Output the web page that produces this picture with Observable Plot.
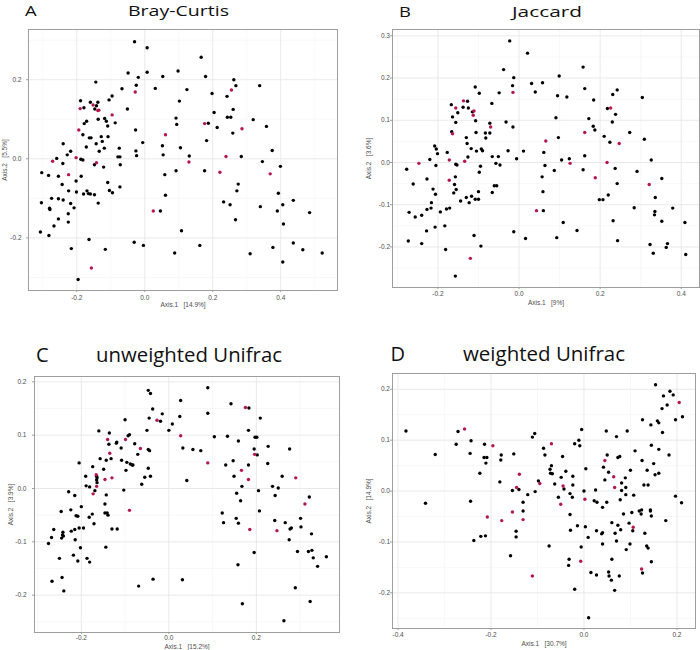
<!DOCTYPE html>
<html><head><meta charset="utf-8">
<script src="https://cdn.jsdelivr.net/npm/d3@7"></script>
<script src="https://cdn.jsdelivr.net/npm/@observablehq/plot@0.6"></script>
<style>
body{margin:0;background:#fff;}
#wrap{position:relative;width:700px;height:650px;overflow:hidden;background:#fff;}
#wrap svg{position:absolute;}
</style></head><body><div id="wrap"></div>
<script>
// ---------- Panel A: Bray-Curtis ----------
const brayBlack = [[-0.03,0.296],[0.007,0.281],[-0.144,0.194],[-0.049,0.217],[0.007,0.219],[-0.019,0.206],[0.053,0.208],[-0.025,0.186],[-0.067,0.177],[0.031,0.178],[-0.096,0.159],[-0.105,0.149],[-0.189,0.147],[-0.16,0.143],[-0.138,0.143],[-0.142,0.134],[-0.179,0.129],[-0.147,0.126],[-0.051,0.126],[-0.171,0.095],[-0.178,0.089],[-0.137,0.1],[-0.118,0.102],[-0.113,0.095],[-0.087,0.091],[-0.109,0.083],[-0.027,0.073],[-0.182,0.061],[-0.128,0.056],[-0.158,0.053],[-0.163,0.053],[-0.108,0.056],[-0.125,0.044],[-0.006,0.041],[-0.143,0.038],[-0.24,0.038],[-0.172,0.03],[-0.119,0.027],[-0.075,0.027],[-0.134,0.019],[-0.218,0.019],[-0.026,0.02],[-0.024,0.008],[-0.228,0.01],[-0.188,-0.001],[-0.182,-0.003],[-0.259,0.001],[-0.079,0.005],[-0.073,0.005],[-0.241,-0.012],[-0.148,-0.015],[-0.072,-0.015],[-0.121,-0.021],[-0.303,-0.035],[-0.283,-0.042],[-0.187,-0.044],[-0.254,-0.044],[-0.202,-0.056],[-0.109,-0.06],[-0.243,-0.065],[-0.073,-0.071],[-0.104,-0.08],[-0.224,-0.081],[-0.201,-0.084],[-0.17,-0.081],[-0.095,-0.086],[-0.18,-0.089],[-0.166,-0.088],[-0.16,-0.089],[-0.148,-0.091],[-0.274,-0.1],[-0.254,-0.101],[-0.24,-0.104],[-0.304,-0.111],[-0.218,-0.113],[-0.137,-0.112],[-0.28,-0.125],[-0.279,-0.128],[-0.208,-0.124],[0.046,-0.132],[-0.225,-0.139],[-0.254,-0.152],[-0.225,-0.16],[-0.267,-0.17],[-0.307,-0.185],[-0.282,-0.194],[-0.164,-0.204],[-0.031,-0.211],[-0.116,-0.229],[-0.216,-0.227],[-0.004,-0.219],[-0.196,-0.305],[0.088,-0.238],[0.052,0.033],[0.054,0.01],[0.059,-0.04],[0.061,-0.092],[0.092,-0.03],[0.092,0.103],
[0.094,0.087],[0.098,0.222],[0.102,0.146],[0.105,0.028],[0.108,-0.182],[0.166,0.257],[0.179,0.208],[0.124,0.175],[0.262,0.2],[0.268,0.185],[0.338,0.185],[0.198,0.165],[0.242,0.158],[0.26,0.125],[0.204,0.117],[0.243,0.105],[0.253,0.105],[0.319,0.099],[0.187,0.09],[0.213,0.079],[0.358,0.082],[0.259,0.065],[0.182,0.046],[0.375,0.021],[0.131,0.007],[0.284,0.006],[0.346,-0.007],[0.399,-0.019],[0.176,-0.03],[0.275,-0.064],[0.271,-0.081],[0.393,-0.087],[0.437,-0.105],[0.232,-0.109],[0.251,-0.116],[0.34,-0.121],[0.406,-0.116],[0.39,-0.132],[0.485,-0.136],[0.267,-0.154],[0.408,-0.165],[0.162,-0.219],[0.437,-0.213],[0.377,-0.224],[0.465,-0.23],[0.31,-0.24],[0.522,-0.238],[0.406,-0.261]];
const brayRed = [[-0.028,0.169],[-0.152,0.136],[-0.19,0.127],[-0.138,0.122],[-0.135,0.123],[-0.096,0.111],[-0.194,0.073],[-0.202,0.003],[-0.271,-0.006],[-0.142,-0.01],[-0.224,-0.04],[0.025,-0.132],[-0.157,-0.276],[0.061,0.061],[0.255,0.174],[0.176,0.089],[0.286,0.076],[0.13,-0.008],[0.239,0.006],[0.221,-0.034],[0.369,-0.038]];

// ---------- Panel B: Jaccard ----------
const jaccBlack = [[-0.023,0.288],[-0.038,0.22],[-0.013,0.201],[-0.016,0.182],[-0.049,0.165],[-0.108,0.179],[-0.098,0.164],[-0.127,0.145],[-0.167,0.137],[-0.138,0.131],[-0.125,0.129],[-0.115,0.12],[-0.151,0.118],[-0.067,0.14],[-0.164,0.108],[-0.107,0.099],[-0.032,0.096],[-0.156,0.095],[-0.072,0.093],[-0.015,0.084],[-0.166,0.073],[-0.106,0.071],[-0.083,0.07],[-0.072,0.07],[-0.082,0.058],[-0.13,0.059],[-0.128,0.045],[-0.208,0.039],[-0.204,0.032],[-0.118,0.033],[-0.093,0.032],[-0.09,0.028],[-0.105,0.027],[-0.027,0.028],[-0.201,0.021],[-0.177,0.024],[-0.066,0.014],[-0.051,0.014],[-0.126,0.013],[-0.006,0.009],[-0.22,0.007],[-0.057,-0.002],[-0.156,-0.004],[-0.153,-0.006],[-0.047,-0.006],[-0.205,-0.007],[-0.095,-0.009],[-0.277,-0.016],[-0.098,-0.023],[-0.157,-0.034],[-0.227,-0.039],[-0.261,-0.051],[-0.159,-0.052],[-0.061,-0.055],[-0.055,-0.055],[-0.155,-0.064],[-0.212,-0.063],[-0.066,-0.071],[-0.161,-0.072],[-0.1,-0.069],[-0.206,-0.075],[-0.13,-0.083],[-0.117,-0.08],[-0.108,-0.087],[-0.1,-0.087],[-0.144,-0.091],[-0.123,-0.095],[-0.216,-0.095],[-0.217,-0.108],[-0.179,-0.11],[-0.171,-0.108],[-0.227,-0.111],[-0.194,-0.117],[-0.271,-0.118],[-0.24,-0.125],[-0.256,-0.129],[-0.183,-0.15],[-0.228,-0.162],[-0.207,-0.153],[-0.013,-0.164],[-0.111,-0.173],[-0.273,-0.186],[-0.24,-0.192],[-0.094,-0.198],[-0.181,-0.206],[-0.157,-0.269],
[0.021,0.259],[0.158,0.226],[0.099,0.205],[0.031,0.187],[0.058,0.189],[0.04,0.167],[0.162,0.175],[0.242,0.172],[0.231,0.161],[0.095,0.158],[0.118,0.155],[0.304,0.154],[0.184,0.148],[0.218,0.128],[0.238,0.114],[0.091,0.106],[0.172,0.104],[0.23,0.096],[0.183,0.086],[0.187,0.077],[0.273,0.071],[0.097,0.059],[0.21,0.062],[0.309,0.055],[0.224,0.048],[0.011,0.027],[0.061,0.024],[0.162,0.016],[0.124,0.009],[0.105,0.006],[0.326,0.006],[0.064,-0.007],[0.237,-0.014],[0.158,-0.017],[0.087,-0.019],[0.291,-0.021],[0.057,-0.034],[0.352,-0.038],[0.242,-0.05],[0.059,-0.069],[0.22,-0.077],[0.336,-0.083],[0.198,-0.088],[0.207,-0.088],[0.284,-0.107],[0.379,-0.108],[0.06,-0.114],[0.335,-0.116],[0.334,-0.124],[0.109,-0.142],[0.232,-0.138],[0.352,-0.139],[0.409,-0.142],[0.143,-0.161],[0.016,-0.18],[0.093,-0.178],[0.243,-0.185],[0.323,-0.194],[0.366,-0.192],[0.363,-0.201],[0.331,-0.215],[0.411,-0.218]];
const jaccRed = [[-0.015,0.166],[-0.137,0.146],[-0.156,0.129],[-0.111,0.122],[-0.113,0.112],[-0.07,0.084],[-0.164,0.068],[-0.172,0.006],[-0.134,0.003],[-0.247,-0.002],[-0.172,-0.042],[-0.12,-0.227],[0.226,0.129],[0.162,0.071],[0.066,0.051],[0.247,0.045],[0.126,-0.002],[0.217,0.0],[0.188,-0.036],[0.321,-0.052],[0.043,-0.114]];

// ---------- Panel C: unweighted Unifrac ----------
const unwBlack = [[-0.047,0.184],[-0.042,0.178],[-0.037,0.149],[-0.045,0.132],[-0.019,0.126],[-0.015,0.14],[-0.1,0.129],[0.008,0.121],[0.0,0.109],[-0.05,0.109],[-0.16,0.108],[-0.136,0.104],[-0.09,0.101],[-0.093,0.099],[-0.078,0.084],[-0.137,0.083],[-0.119,0.087],[-0.12,0.085],[-0.109,0.076],[-0.047,0.073],[-0.044,0.071],[-0.071,0.064],[-0.157,0.056],[-0.143,0.053],[-0.132,0.056],[-0.108,0.053],[-0.096,0.049],[-0.088,0.046],[-0.084,0.044],[-0.082,0.044],[-0.205,0.048],[-0.174,0.041],[-0.047,0.038],[-0.149,0.036],[-0.098,0.034],[-0.19,0.023],[-0.165,0.023],[-0.164,0.02],[-0.165,0.016],[-0.055,0.021],[-0.042,0.023],[-0.164,0.011],[-0.189,0.005],[-0.181,0.003],[-0.062,0.008],[-0.103,-0.003],[-0.229,-0.006],[-0.169,-0.004],[-0.215,-0.013],[-0.143,-0.012],[-0.146,-0.029],[-0.2,-0.034],[-0.212,-0.051],[-0.208,-0.052],[-0.224,-0.04],[-0.246,-0.043],[-0.146,-0.046],[-0.141,-0.046],[-0.139,-0.05],[-0.175,-0.048],[-0.182,-0.054],[-0.171,-0.066],[-0.195,-0.074],[-0.205,-0.074],[-0.215,-0.077],[-0.223,-0.08],[-0.263,-0.077],[-0.13,-0.076],[-0.118,-0.076],[-0.242,-0.082],[-0.243,-0.087],[-0.241,-0.089],[-0.245,-0.093],[-0.268,-0.092],[-0.214,-0.096],[-0.275,-0.103],[-0.144,-0.11],[-0.202,-0.111],[-0.218,-0.125],[-0.208,-0.136],[-0.25,-0.131],[-0.187,-0.131],[-0.181,-0.138],[-0.036,-0.17],[-0.244,-0.167],[-0.267,-0.174],[-0.24,-0.192],[-0.069,-0.183],
[0.089,0.189],[0.027,0.165],[0.025,0.135],[0.142,0.159],[0.183,0.151],[0.089,0.141],[0.209,0.132],[0.182,0.109],[0.104,0.097],[0.134,0.098],[0.159,0.089],[0.197,0.096],[0.201,0.096],[0.227,0.079],[0.276,0.074],[0.032,0.076],[0.055,0.073],[0.073,0.071],[0.195,0.074],[0.202,0.063],[0.13,0.044],[0.147,0.052],[0.182,0.044],[0.226,0.047],[0.149,0.023],[0.259,0.023],[0.041,0.015],[0.167,0.004],[0.237,0.004],[0.25,0.001],[0.155,-0.009],[0.205,-0.004],[0.243,-0.013],[0.321,-0.016],[0.164,-0.023],[0.207,-0.042],[0.122,-0.046],[0.301,-0.056],[0.154,-0.056],[0.125,-0.064],[0.159,-0.065],[0.242,-0.06],[0.266,-0.064],[0.277,-0.076],[0.28,-0.074],[0.302,-0.072],[0.326,-0.085],[0.275,-0.096],[0.195,-0.12],[0.294,-0.118],[0.319,-0.118],[0.327,-0.116],[0.33,-0.13],[0.36,-0.128],[0.34,-0.146],[0.158,-0.143],[0.031,-0.171],[0.289,-0.186],[0.323,-0.212],[0.168,-0.216],[0.263,-0.248]];
const unwRed = [[-0.027,0.128],[-0.14,0.092],[-0.099,0.092],[-0.065,0.075],[-0.135,0.066],[-0.166,0.026],[-0.13,0.02],[-0.146,0.017],[-0.165,0.004],[-0.173,-0.01],[-0.09,-0.041],[0.175,0.152],[0.027,0.099],[0.196,0.064],[0.089,0.048],[0.166,0.034],[0.182,0.017],[0.29,0.02],[0.311,-0.029],[0.185,-0.077],[0.247,-0.079]];

// ---------- Panel D: weighted Unifrac ----------
const wBlack = [[-0.383,0.118],[-0.271,0.117],[-0.275,0.092],[-0.243,0.099],[-0.32,0.072],[-0.245,0.074],[-0.214,0.092],[-0.215,0.066],[-0.209,0.066],[-0.211,0.055],[-0.178,0.071],[-0.179,0.061],[-0.151,0.073],[-0.224,0.035],[-0.181,0.018],[-0.154,0.001],[-0.14,0.003],[-0.341,-0.024],[-0.244,-0.02],[-0.222,-0.089],[-0.212,-0.088],[-0.237,-0.097],[-0.146,-0.079],[-0.146,-0.09],[-0.158,-0.127],
[-0.131,-0.022],[-0.131,-0.039],[-0.121,-0.007],[-0.105,-0.001],[-0.111,0.106],[-0.106,0.113],[-0.087,0.084],[-0.084,0.071],[-0.098,0.02],[-0.07,0.05],[-0.073,0.043],[-0.072,0.035],[-0.068,0.034],[-0.063,0.014],[-0.049,0.027],[-0.046,0.068],[-0.039,0.039],[-0.043,0.004],[-0.055,-0.012],[-0.03,-0.005],[-0.024,0.029],[-0.024,0.012],[-0.025,-0.012],[-0.03,-0.046],[-0.029,-0.077],[-0.02,0.093],[-0.011,0.1],[-0.009,0.089],[-0.005,0.121],[0.0,0.0],[0.004,0.044],[-0.014,-0.068],[0.003,-0.07],[0.009,-0.091],[-0.006,-0.11],[-0.075,-0.108],[-0.032,-0.134],[-0.033,-0.146],[-0.02,-0.193],[0.01,-0.249],[0.015,-0.16],[0.027,-0.165],[0.022,-0.019],[0.028,-0.022],[0.025,0.002],[0.027,-0.078],[0.038,-0.084],[0.04,-0.082],[0.04,-0.032],[0.04,-0.104],[0.045,0.022],[0.049,-0.022],[0.042,0.047],[0.05,0.071],[0.048,0.118],[0.053,0.037],[0.053,-0.159],[0.054,-0.167],[0.059,-0.175],[0.06,-0.134],[0.06,-0.062],[0.066,-0.195],[0.067,-0.083],[0.07,0.107],[0.07,-0.098],[0.073,-0.067],[0.073,0.066],[0.077,0.068],[0.076,-0.167],[0.078,-0.017],[0.079,-0.076],[0.081,0.016],[0.081,0.001],[0.085,-0.045],[0.089,0.026],[0.09,0.007],[0.09,-0.007],[0.091,-0.115],[0.093,0.118],[0.097,-0.063],[0.099,-0.104],[0.1,0.041],[0.103,-0.042],[0.105,-0.078],[0.107,-0.008],[0.11,0.079],[0.119,-0.039],[0.123,-0.045],[0.124,-0.037],[0.126,-0.161],[0.126,0.14],[0.125,0.06],[0.129,0.012],[0.131,-0.083],[0.136,0.041],[0.138,0.012],[0.135,-0.108],[0.138,-0.112],[0.143,-0.039],[0.143,-0.037],[0.145,-0.049],[0.144,0.13],[0.145,0.09],[0.145,-0.139],[0.15,0.054],[0.153,0.032],[0.154,0.209],[0.158,0.138],[0.161,0.134],[0.161,0.082],[0.161,0.035],[0.169,0.115],[0.168,0.162],[0.171,0.187],[0.176,-0.058],[0.179,0.169],[0.183,0.071],[0.185,0.196],[0.192,0.189],[0.197,0.14],[0.212,0.146],[0.197,-0.01],[0.21,-0.023]];
const wRed = [[-0.257,0.122],[-0.196,0.089],[-0.139,0.033],[-0.145,0.007],[-0.208,-0.051],[-0.177,-0.058],[-0.154,-0.041],[-0.131,-0.056],[-0.07,0.093],[-0.095,0.015],[-0.045,0.01],[-0.05,-0.026],[0.002,-0.016],[-0.007,-0.138],[-0.111,-0.167],[0.045,0.06],[0.064,0.028],[0.066,0.007],[0.106,-0.071],[0.124,-0.153],[0.205,0.174]];

// ---------- ticks and labels ----------
const panelLetters = ["A", "B", "C", "D"];
const panelTitles = ["Bray-Curtis", "Jaccard", "unweighted Unifrac", "weighted Unifrac"];
const xAxisLabels = ["Axis.1\u00a0\u00a0\u00a0[14.9%]", "Axis.1\u00a0\u00a0\u00a0[9%]", "Axis.1\u00a0\u00a0\u00a0[15.2%]", "Axis.1\u00a0\u00a0\u00a0[30.7%]"];
const yAxisLabels = ["Axis.2\u00a0\u00a0\u00a0[5.5%]", "Axis.2\u00a0\u00a0\u00a0[3.6%]", "Axis.2\u00a0\u00a0\u00a0[3.9%]", "Axis.2\u00a0\u00a0\u00a0[14.9%]"];
const xTicksA = [-0.2, 0, 0.2, 0.4], yTicksA = [-0.2, 0, 0.2];
const xMinorA = [-0.3, -0.1, 0.1, 0.3, 0.5], yMinorA = [-0.3, -0.1, 0.1, 0.3];
const xTicksB = [-0.2, 0, 0.2, 0.4], yTicksB = [-0.2, -0.1, 0, 0.1, 0.2, 0.3];
const xMinorB = [-0.3, -0.1, 0.1, 0.3], yMinorB = [-0.25, -0.15, -0.05, 0.05, 0.15, 0.25];
const xTicksC = [-0.2, 0, 0.2], yTicksC = [-0.2, -0.1, 0, 0.1, 0.2];
const xMinorC = [-0.3, -0.1, 0.1, 0.3], yMinorC = [-0.25, -0.15, -0.05, 0.05, 0.15];
const xTicksD = [-0.4, -0.2, 0, 0.2], yTicksD = [-0.2, -0.1, 0, 0.1, 0.2];
const xMinorD = [-0.3, -0.1, 0.1], yMinorD = [-0.25, -0.15, -0.05, 0.05, 0.15];

const RED = "#b5174b";
const fmt = v => v.toFixed(1);

const panels = [
  {black: brayBlack, red: brayRed, xd: [-0.342, 0.567], yd: [-0.333, 0.327], xt: xTicksA, yt: yTicksA, xm: xMinorA, ym: yMinorA,
   left: 0, top: 20, w: 345, h: 305, ml: 28, mt: 9, mr: 8, mb: 35, padX: 2.5, padY: 5, lx: 16},
  {black: jaccBlack, red: jaccRed, xd: [-0.312, 0.445], yd: [-0.296, 0.315], xt: xTicksB, yt: yTicksB, xm: xMinorB, ym: yMinorB,
   left: 350, top: 20, w: 350, h: 305, ml: 42, mt: 9, mr: 1, mb: 38, padX: 2, padY: 0.5, lx: 17.5},
  {black: unwBlack, red: unwRed, xd: [-0.307, 0.39], yd: [-0.27, 0.21], xt: xTicksC, yt: yTicksC, xm: xMinorC, ym: yMinorC,
   left: 0, top: 365, w: 345, h: 285, ml: 34, mt: 11, mr: 6, mb: 18, padX: 1, padY: 6, lx: 16},
  {black: wBlack, red: wRed, xd: [-0.412, 0.24], yd: [-0.27, 0.231], xt: xTicksD, yt: yTicksD, xm: xMinorD, ym: yMinorD,
   left: 350, top: 365, w: 350, h: 285, ml: 42, mt: 8, mr: 5, mb: 22, padX: 1.5, padY: 0.5, lx: 17.5}
];

const wrap = document.getElementById("wrap");
panels.forEach((p, i) => {
  const svg = Plot.plot({
    width: p.w, height: p.h,
    marginLeft: p.ml, marginTop: p.mt, marginRight: p.mr, marginBottom: p.mb,
    style: {fontFamily: "'Liberation Sans', Arial, sans-serif", background: "transparent", overflow: "visible"},
    x: {domain: p.xd},
    y: {domain: p.yd},
    marks: [
      Plot.ruleX(p.xm, {stroke: "#f3f3f3", strokeWidth: 0.6}),
      Plot.ruleY(p.ym, {stroke: "#f3f3f3", strokeWidth: 0.6}),
      Plot.ruleX(p.xt, {stroke: "#e6e6e6", strokeWidth: 0.9}),
      Plot.ruleY(p.yt, {stroke: "#e6e6e6", strokeWidth: 0.9}),
      Plot.dot(p.black, {x: d => d[0], y: d => d[1], r: 1.7, fill: "#000", stroke: "none"}),
      Plot.dot(p.red, {x: d => d[0], y: d => d[1], r: 1.7, fill: RED, stroke: "none"}),
      Plot.frame({stroke: "#9e9e9e", strokeWidth: 1}),
      Plot.axisX(p.xt, {tickFormat: fmt, tickSize: 2, stroke: "#9e9e9e", tickPadding: p.padX, fontSize: 6.5, fill: "#4d4d4d",
        label: xAxisLabels[i], labelAnchor: "center", labelArrow: "none", labelOffset: p.lx}),
      Plot.axisY(p.yt, {tickFormat: fmt, tickSize: 2, stroke: "#9e9e9e", tickPadding: p.padY, fontSize: 6.5, fill: "#4d4d4d",
        label: yAxisLabels[i], labelAnchor: "center", labelArrow: "none", labelOffset: 26.5})
    ]
  });
  svg.style.left = p.left + "px";
  svg.style.top = p.top + "px";
  wrap.appendChild(svg);
});

// ---------- panel letters and titles ----------
const tsvg = d3.select(wrap).append("svg")
  .attr("width", 700).attr("height", 650)
  .style("left", "0px").style("top", "0px").style("pointer-events", "none");
const titleSpecs = [
  {letterX: 25, titleX: 128, base: 16.4, fs: 16, sx: 1.15, sy: 0.95, len: 101},
  {letterX: 399, titleX: 512, base: 16.8, fs: 16, sx: 1.15, sy: 0.95, len: 70},
  {letterX: 36, titleX: 96, base: 361.5, fs: 20, sx: 1, sy: 1, len: 186},
  {letterX: 390.5, titleX: 463, base: 360.5, fs: 20, sx: 1, sy: 1, len: 162}
];
titleSpecs.forEach((t, i) => {
  const g = tsvg.append("g").style("font-family", "'Open Sans', Lato, sans-serif").style("font-size", t.fs + "px").attr("fill", "#111");
  g.append("text").attr("transform", `translate(${t.letterX},${t.base}) scale(${t.sx},${t.sy})`).text(panelLetters[i]);
  g.append("text").attr("transform", `translate(${t.titleX},${t.base}) scale(1,${t.sy})`)
    .attr("textLength", t.len).attr("lengthAdjust", "spacingAndGlyphs").text(panelTitles[i]);
});
</script>
</body></html>
